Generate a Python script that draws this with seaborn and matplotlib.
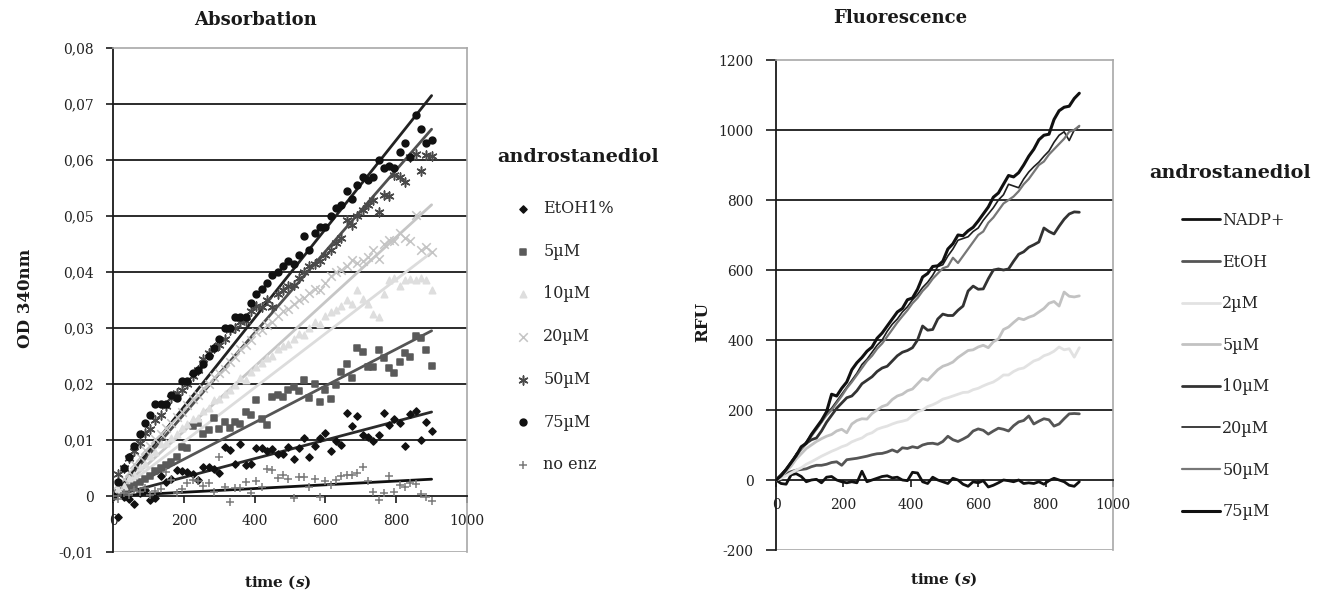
import numpy as np
import pandas as pd
import matplotlib
matplotlib.use("Agg")
import matplotlib.pyplot as plt
import seaborn as sns

sns.set_style("white")
plt.rcParams['font.family'] = ['DejaVu Serif']
plt.rcParams['mathtext.fontset'] = 'custom'
plt.rcParams['mathtext.it'] = 'DejaVu Serif:italic:bold'

# ---------------- data ----------------
time_s = list(range(0, 901, 15))

abs_labels = ["EtOH1%", "5µM", "10µM", "20µM", "50µM", "75µM", "no enz"]
abs_etoh = [0, -0.0037, -0.0002, -0.0005, -0.0014, 0.0005, 0.0010, -0.0007, -0.0004, 0.0035,
            0.0025, 0.0030, 0.0046, 0.0045, 0.0043, 0.0040, 0.0029, 0.0052, 0.0052, 0.0048,
            0.0041, 0.0088, 0.0082, 0.0058, 0.0093, 0.0055, 0.0058, 0.0086, 0.0086, 0.0080,
            0.0084, 0.0075, 0.0075, 0.0088, 0.0066, 0.0086, 0.0104, 0.0070, 0.0089, 0.0104,
            0.0112, 0.0080, 0.0098, 0.0091, 0.0148, 0.0125, 0.0143, 0.0109, 0.0105, 0.0098,
            0.0109, 0.0148, 0.0127, 0.0137, 0.0130, 0.0089, 0.0146, 0.0152, 0.0100, 0.0132,
            0.0116]
abs_5 = [0, 0.0005, 0.0010, 0.0015, 0.0020, 0.0025, 0.0030, 0.0035, 0.0045, 0.0050,
         0.0055, 0.0060, 0.0070, 0.0088, 0.0086, 0.0125, 0.0130, 0.0110, 0.0118, 0.0140,
         0.0120, 0.0133, 0.0122, 0.0132, 0.0128, 0.0150, 0.0145, 0.0172, 0.0138, 0.0127,
         0.0177, 0.0180, 0.0177, 0.0190, 0.0195, 0.0188, 0.0207, 0.0175, 0.0200, 0.0167,
         0.0190, 0.0173, 0.0198, 0.0222, 0.0236, 0.0210, 0.0265, 0.0258, 0.0230, 0.0230,
         0.0260, 0.0246, 0.0228, 0.0220, 0.0239, 0.0255, 0.0248, 0.0286, 0.0282, 0.0260,
         0.0232]
abs_10 = [0, 0.0012, 0.0018, 0.0032, 0.0038, 0.0052, 0.0058, 0.0072, 0.0079, 0.0092,
          0.0095, 0.0104, 0.0110, 0.0122, 0.0128, 0.0137, 0.0140, 0.0152, 0.0158, 0.0171,
          0.0174, 0.0183, 0.0190, 0.0198, 0.0210, 0.0208, 0.0222, 0.0230, 0.0238, 0.0246,
          0.0250, 0.0262, 0.0268, 0.0272, 0.0281, 0.0290, 0.0288, 0.0300, 0.0310, 0.0308,
          0.0322, 0.0328, 0.0333, 0.0340, 0.0350, 0.0342, 0.0368, 0.0352, 0.0342, 0.0325,
          0.0320, 0.0360, 0.0385, 0.0390, 0.0375, 0.0385, 0.0388, 0.0385, 0.0390, 0.0385,
          0.0368]
abs_20 = [0, 0.0022, 0.0030, 0.0042, 0.0058, 0.0070, 0.0082, 0.0090, 0.0102, 0.0110,
          0.0122, 0.0130, 0.0141, 0.0150, 0.0162, 0.0174, 0.0180, 0.0192, 0.0200, 0.0212,
          0.0220, 0.0226, 0.0240, 0.0248, 0.0262, 0.0270, 0.0278, 0.0292, 0.0296, 0.0305,
          0.0310, 0.0322, 0.0330, 0.0334, 0.0342, 0.0350, 0.0354, 0.0362, 0.0370, 0.0368,
          0.0380, 0.0392, 0.0400, 0.0404, 0.0410, 0.0422, 0.0416, 0.0420, 0.0427, 0.0440,
          0.0424, 0.0450, 0.0458, 0.0455, 0.0470, 0.0460, 0.0455, 0.0502, 0.0440, 0.0445,
          0.0435]
abs_50 = [0, 0.0040, 0.0050, 0.0068, 0.0080, 0.0095, 0.0112, 0.0120, 0.0135, 0.0145,
          0.0160, 0.0175, 0.0184, 0.0190, 0.0200, 0.0215, 0.0225, 0.0245, 0.0255, 0.0265,
          0.0270, 0.0280, 0.0296, 0.0300, 0.0310, 0.0312, 0.0330, 0.0340, 0.0338, 0.0350,
          0.0338, 0.0360, 0.0368, 0.0375, 0.0377, 0.0390, 0.0400, 0.0410, 0.0415, 0.0420,
          0.0430, 0.0440, 0.0452, 0.0460, 0.0493, 0.0484, 0.0500, 0.0510, 0.0520, 0.0528,
          0.0507, 0.0537, 0.0535, 0.0573, 0.0570, 0.0560, 0.0606, 0.0610, 0.0580, 0.0609,
          0.0608]
abs_75 = [0, 0.0025, 0.0050, 0.0070, 0.0090, 0.0110, 0.0130, 0.0145, 0.0165, 0.0165,
          0.0165, 0.0180, 0.0175, 0.0205, 0.0205, 0.0220, 0.0225, 0.0235, 0.0250, 0.0265,
          0.0280, 0.0300, 0.0300, 0.0320, 0.0320, 0.0320, 0.0345, 0.0360, 0.0370, 0.0380,
          0.0395, 0.0400, 0.0410, 0.0420, 0.0415, 0.0430, 0.0465, 0.0440, 0.0470, 0.0480,
          0.0480, 0.0500, 0.0515, 0.0520, 0.0545, 0.0530, 0.0555, 0.0570, 0.0565, 0.0570,
          0.0600, 0.0585, 0.0590, 0.0585, 0.0615, 0.0630, 0.0605, 0.0680, 0.0655, 0.0630,
          0.0635]
abs_noenz = [0, -0.0005, 0.0005, 0.0002, 0.0010, 0.0008, 0.0015, 0.0002, 0.0009, 0.0012,
             0.0043, 0.0028, 0.0006, 0.0013, 0.0023, 0.0028, 0.0026, 0.0018, 0.0024, 0.0007,
             0.0070, 0.0016, -0.0011, 0.0015, 0.0014, 0.0025, 0.0005, 0.0026, 0.0016, 0.0048,
             0.0046, 0.0032, 0.0038, 0.0030, -0.0004, 0.0034, 0.0034, 0.0016, 0.0031, -0.0002,
             0.0027, 0.0020, 0.0029, 0.0036, 0.0038, 0.0038, 0.0041, 0.0052, 0.0027, 0.0007,
             -0.0007, 0.0005, 0.0036, 0.0007, 0.0019, 0.0016, 0.0023, 0.0021, 0.0004, -0.0002,
             -0.0009]
# linear trend lines (value at t = 900 s)
abs_trend_t = [0, 900]
abs_trend_end = [0.015, 0.0295, 0.0435, 0.052, 0.0655, 0.0715, 0.003]

fl_labels = ["NADP+", "EtOH", "2µM", "5µM", "10µM", "20µM", "50µM", "75µM"]
fl_nadp = [0, -10, -12, 15, 18, 10, -5, 0, 2, -8, 8, 10, 0, -5, -8, -5, -8, 25, -5, 0,
           5, 10, 12, 6, 8, 0, -2, 22, 20, -5, -10, 8, 0, -5, -10, 5, 0, -12, -18, -5,
           -8, -2, -20, -15, -8, 0, -2, -5, 0, -10, -8, -10, -5, -12, -2, 5, 0, -5, -15, -18, -5]
fl_etoh = [0, 8, 18, 24, 28, 30, 32, 38, 42, 42, 45, 50, 52, 42, 58, 60, 62, 65, 68, 72,
           75, 76, 80, 86, 80, 92, 90, 95, 92, 100, 104, 105, 102, 110, 125, 115, 110, 117, 125, 140,
           146, 142, 131, 140, 148, 145, 140, 155, 166, 170, 183, 160, 168, 175, 172, 154, 160, 175, 189, 190, 189]
fl_2 = [0, 5, 12, 20, 28, 35, 45, 52, 60, 68, 75, 82, 88, 95, 100, 109, 115, 120, 130, 135,
        145, 150, 154, 160, 165, 168, 172, 185, 195, 200, 210, 215, 222, 231, 235, 240, 245, 250, 251, 258,
        262, 269, 275, 280, 289, 300, 300, 310, 317, 320, 330, 340, 345, 355, 360, 368, 380, 372, 375, 351, 378]
fl_5 = [0, 10, 25, 40, 60, 75, 90, 100, 110, 118, 125, 130, 140, 145, 135, 160, 170, 175, 174, 190,
        200, 210, 215, 230, 240, 245, 255, 260, 275, 290, 285, 300, 315, 325, 330, 337, 350, 360, 370, 372,
        380, 385, 378, 395, 403, 430, 437, 450, 462, 458, 465, 470, 480, 490, 505, 510, 497, 537, 525, 523, 526]
fl_10 = [0, 15, 30, 50, 70, 90, 105, 115, 120, 140, 165, 185, 205, 220, 235, 240, 255, 275, 285, 295,
         310, 320, 325, 340, 355, 365, 370, 378, 400, 440, 428, 430, 460, 474, 470, 470, 485, 497, 540, 554,
         545, 546, 575, 600, 603, 600, 603, 625, 645, 652, 665, 672, 680, 720, 710, 703, 725, 745, 760, 766, 765]
fl_20 = [0, 15, 32, 50, 75, 90, 110, 130, 145, 165, 190, 205, 225, 245, 265, 285, 305, 330, 345, 365,
         385, 400, 425, 445, 460, 480, 495, 515, 530, 550, 565, 585, 610, 615, 640, 660, 685, 690, 695, 710,
         720, 742, 760, 778, 800, 815, 845, 840, 835, 860, 880, 895, 908, 925, 940, 965, 985, 995, 970, 1000, 1010]
fl_50 = [0, 12, 28, 50, 70, 88, 105, 125, 145, 165, 185, 200, 220, 240, 262, 280, 300, 320, 340, 355,
         375, 390, 410, 430, 450, 468, 485, 505, 520, 540, 555, 575, 590, 605, 610, 635, 620, 640, 660, 680,
         700, 710, 735, 750, 770, 790, 800, 810, 825, 845, 860, 880, 900, 910, 930, 945, 960, 975, 995, 1000, 1012]
fl_75 = [0, 12, 30, 50, 70, 95, 105, 130, 150, 170, 195, 245, 240, 262, 280, 315, 335, 350, 368, 380,
         405, 420, 440, 460, 480, 490, 515, 520, 545, 580, 590, 610, 612, 625, 660, 675, 700, 698, 712, 722,
         740, 760, 780, 808, 820, 845, 870, 866, 878, 900, 925, 945, 972, 985, 988, 1030, 1055, 1065, 1068, 1090, 1105]

abs_yticks = [-0.01, 0, 0.01, 0.02, 0.03, 0.04, 0.05, 0.06, 0.07, 0.08]
abs_yticklabels = ["-0,01", "0", "0,01", "0,02", "0,03", "0,04", "0,05", "0,06", "0,07", "0,08"]
fl_yticks = [-200, 0, 200, 400, 600, 800, 1000, 1200]
x_ticks = [0, 200, 400, 600, 800, 1000]

# ---------------- styles ----------------
abs_series = [abs_etoh, abs_5, abs_10, abs_20, abs_50, abs_75, abs_noenz]
abs_markers = ["D", "s", "^", "x", (6, 2, 0), "o", "+"]
abs_colors = ["#111111", "#5a5a5a", "#dedede", "#c4c4c4", "#4a4a4a", "#111111", "#7a7a7a"]
abs_sizes = [13, 22, 22, 38, 42, 24, 28]
abs_trend_colors = ["#2a2a2a", "#555555", "#dcdcdc", "#c6c6c6", "#505050", "#222222", "#111111"]

fl_series = [fl_nadp, fl_etoh, fl_2, fl_5, fl_10, fl_20, fl_50, fl_75]
fl_colors = ["#111111", "#555555", "#e2e2e2", "#c2c2c2", "#333333", "#1e1e1e", "#777777", "#111111"]
fl_widths = [2.0, 2.0, 2.0, 2.0, 2.0, 1.2, 1.6, 2.2]

W, H = 1327, 595
fig = plt.figure(figsize=(W / 100, H / 100), dpi=100)
ax1 = fig.add_axes([113 / W, 1 - 552 / H, (467 - 113) / W, (552 - 48) / H])
ax2 = fig.add_axes([776 / W, 1 - 550 / H, (1113 - 776) / W, (550 - 60) / H])

GRAY = "#a8a8a8"

def style_axes(ax, yticks, ylabels, ylim, ticklen_y):
    ax.set_xlim(0, 1000)
    ax.set_ylim(*ylim)
    for v in yticks[1:-1]:
        if v != 0:
            ax.axhline(v, color="#1a1a1a", lw=1.3, zorder=0.5)
    ax.axhline(ylim[0], color=GRAY, lw=1.2, zorder=0.5)
    for s in ["top", "right"]:
        ax.spines[s].set_color(GRAY)
        ax.spines[s].set_linewidth(1.2)
    ax.spines["left"].set_color("#1a1a1a")
    ax.spines["left"].set_linewidth(1.3)
    ax.spines["bottom"].set_position(("data", 0))
    ax.spines["bottom"].set_color("#1a1a1a")
    ax.spines["bottom"].set_linewidth(1.3)
    ax.set_xticks(x_ticks)
    ax.set_xticklabels([str(v) for v in x_ticks])
    ax.set_yticks(yticks)
    ax.set_yticklabels(ylabels)
    ax.tick_params(axis="x", direction="out", length=5, width=1.2, color="#1a1a1a",
                   labelsize=10, pad=8, bottom=True)
    ax.tick_params(axis="y", direction="out", length=ticklen_y, width=1.2, color="#1a1a1a",
                   labelsize=10, pad=9, left=True)
    for lab in ax.get_xticklabels() + ax.get_yticklabels():
        lab.set_color("#222222")
    ax.set_xlabel("")
    ax.set_ylabel("")

# ---------------- left: absorbance ----------------
style_axes(ax1, abs_yticks, abs_yticklabels, (-0.01, 0.08), 5)
for lab, vals, mk, col, sz, tcol, tend in zip(abs_labels, abs_series, abs_markers, abs_colors,
                                              abs_sizes, abs_trend_colors, abs_trend_end):
    sns.lineplot(x=abs_trend_t, y=[0, tend], ax=ax1, color=tcol, lw=2.0, zorder=2,
                 legend=False)
    kw = dict(edgecolor=col) if mk in ["D", "s", "^", "o"] else dict()
    sns.scatterplot(x=time_s, y=vals, ax=ax1, marker=mk, color=col, s=sz,
                    linewidth=1.1, zorder=3, label=lab, **kw)
ax1.set_xlabel("")
ax1.set_ylabel("")
h1, l1 = ax1.get_legend_handles_labels()
ax1.legend(h1, l1, loc="upper left", bbox_to_anchor=(512 / W, 1 - 200 / H),
           bbox_transform=fig.transFigure, frameon=False, fontsize=11.5,
           labelspacing=1.61, handlelength=1.4, handletextpad=0.55,
           borderpad=0, borderaxespad=0, markerscale=1.0)

# ---------------- right: fluorescence ----------------
style_axes(ax2, fl_yticks, [str(v) for v in fl_yticks], (-200, 1200), 7)
for lab, vals, col, lw in zip(fl_labels, fl_series, fl_colors, fl_widths):
    sns.lineplot(x=time_s, y=vals, ax=ax2, color=col, lw=lw, label=lab, zorder=3)
ax2.set_xlabel("")
ax2.set_ylabel("")
h2, l2 = ax2.get_legend_handles_labels()
ax2.legend(h2, l2, loc="upper left", bbox_to_anchor=(1182 / W, 1 - 212 / H),
           bbox_transform=fig.transFigure, frameon=False, fontsize=11.5,
           labelspacing=1.54, handlelength=2.4, handletextpad=0.12,
           borderpad=0, borderaxespad=0)

# ---------------- texts ----------------
fig.text(256 / W, 1 - 20 / H, "Absorbation", ha="center", va="center",
         fontsize=13, fontweight="bold", color="#1a1a1a")
fig.text(900 / W, 1 - 18 / H, "Fluorescence", ha="center", va="center",
         fontsize=13, fontweight="bold", color="#1a1a1a")
fig.text(578 / W, 1 - 157 / H, "androstanediol", ha="center", va="center",
         fontsize=13.8, fontweight="bold", color="#1a1a1a")
fig.text(1230 / W, 1 - 173 / H, "androstanediol", ha="center", va="center",
         fontsize=13.8, fontweight="bold", color="#1a1a1a")
fig.text(25 / W, 1 - 298 / H, "OD 340nm", ha="center", va="center", rotation=90,
         fontsize=12, fontweight="bold", color="#1a1a1a")
fig.text(703 / W, 1 - 322 / H, "RFU", ha="center", va="center", rotation=90,
         fontsize=12, fontweight="bold", color="#1a1a1a")
fig.text(278 / W, 1 - 582 / H, r"time ($\mathit{s}$)", ha="center", va="center",
         fontsize=11, fontweight="bold", color="#1a1a1a")
fig.text(944 / W, 1 - 579 / H, r"time ($\mathit{s}$)", ha="center", va="center",
         fontsize=11, fontweight="bold", color="#1a1a1a")

fig.savefig("out.png", dpi=100, facecolor="white")
